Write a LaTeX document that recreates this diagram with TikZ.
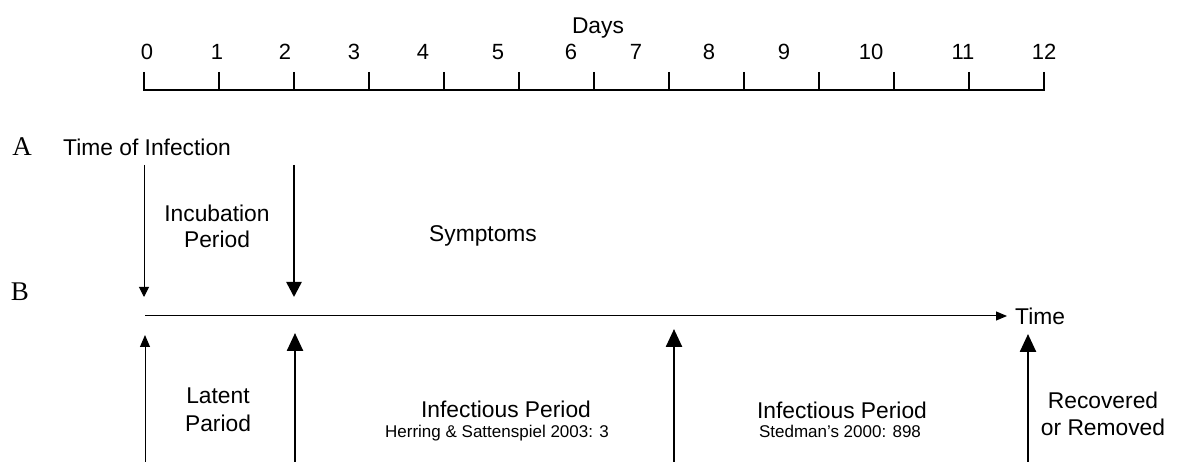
\documentclass[tikz,border=0pt]{standalone}
\usepackage{fontspec}
\setmainfont{Liberation Sans}
\newfontfamily\serifA{Liberation Serif}
\usetikzlibrary{arrows.meta}
\begin{document}
\begin{tikzpicture}[x=1pt,y=-1pt,
  lbl/.style={font=\fontsize{22.8}{27}\selectfont, inner sep=0pt, text height=16.3pt, text depth=0pt},
  digit/.style={font=\fontsize{22}{26}\selectfont, inner sep=0pt, text height=15.7pt, text depth=0pt},
  small/.style={font=\fontsize{17}{20}\selectfont, inner sep=0pt, text height=12.2pt, text depth=0pt},
  letter/.style={font=\serifA\fontsize{27}{32}\selectfont, inner sep=0pt, text height=17.8pt, text depth=0pt},
  rulerline/.style={line width=2pt},
  thindown/.style={line width=1pt, -{Triangle[length=10pt,width=10pt]}},
  thickdown/.style={line width=2.5pt, -{Triangle[length=15pt,width=15pt]}},
  thinup/.style={line width=1pt, -{Triangle[length=12pt,width=10pt]}},
  thickup/.style={line width=2.5pt, -{Triangle[length=18pt,width=16pt]}},
  timearrow/.style={line width=1pt, -{Triangle[length=11pt,width=9pt]}}
]
\useasboundingbox (0,0) rectangle (1179,462);

% ruler
\node[lbl] (days) at (598,25) {Days};
\foreach \i/\lx in {0/147,1/217,2/285,3/354,4/423,5/498,6/571,7/636,8/709,9/784,10/871,11/963,12/1044}{
  \node[digit] (d\i) at (\lx,52) {\i};
  \coordinate (tt\i) at ({144+75*\i},72);
  \coordinate (tb\i) at ({144+75*\i},90);
  \draw[rulerline] (tt\i) -- (tb\i);
}
\draw[rulerline] ([xshift=-1pt]tb0) -- ([xshift=1pt]tb12);

% row labels
\node[letter] (A) at (22,147) {A};
\node[letter] (B) at (20,292) {B};
\node[lbl, anchor=west] (toi) at (63,147) {Time of Infection};

% incubation arrows
\coordinate (inc1s) at (144,165);
\coordinate (inc1e) at (144,297);
\coordinate (inc2s) at (294,165);
\coordinate (inc2e) at (294,297);
\draw[thindown] (inc1s) -- (inc1e);
\draw[thickdown] (inc2s) -- (inc2e);
\node[lbl] (inc) at (217,213) {Incubation};
\node[lbl] (incp) at (217,239) {Period};
\node[lbl] (sym) at (483,233) {Symptoms};

% time line
\node[lbl, anchor=west] (time) at (1015,316) {Time};
\coordinate (tl0) at (145,316);
\coordinate (tl1) at (1007,316);
\draw[timearrow] (tl0) -- (tl1);

% up arrows
\coordinate (u1s) at (145,462);
\coordinate (u1e) at (145,335);
\coordinate (u2s) at (295,462);
\coordinate (u2e) at (295,333);
\coordinate (u3s) at (674,462);
\coordinate (u3e) at (674,329);
\coordinate (u4s) at (1028,462);
\coordinate (u4e) at (1028,334);
\draw[thinup] (u1s) -- (u1e);
\draw[thickup] (u2s) -- (u2e);
\draw[thickup] (u3s) -- (u3e);
\draw[thickup] (u4s) -- (u4e);

\node[lbl] (lat) at (218,395) {Latent};
\node[lbl] (latp) at (218,423) {Pariod};
\node[lbl] (ip1) at (506,409) {Infectious Period};
\node[small] (ref1) at (497,431) {Herring \& Sattenspiel 2003: 3};
\node[lbl] (ip2) at (842,410) {Infectious Period};
\node[small] (ref2) at (840,431) {Stedman's 2000: 898};
\node[lbl] (rec) at (1103,400) {Recovered};
\node[lbl] (rem) at (1103,427) {or Removed};
\end{tikzpicture}
\end{document}
